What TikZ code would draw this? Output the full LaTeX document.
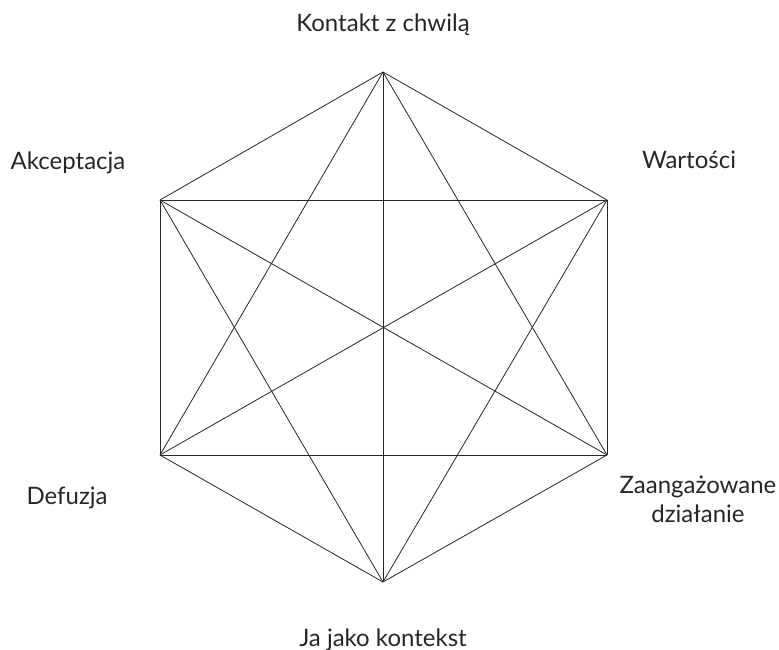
\documentclass[tikz,border=0pt]{standalone}
\usepackage{fontspec}
\setmainfont{Lato}
\begin{document}
\begin{tikzpicture}[x=1pt,y=-1pt,
  edge/.style={draw=black!85,line width=0.8pt},
  lbl/.style={font=\fontsize{24}{29}\selectfont,text=black!85,align=center,inner sep=0pt,anchor=base}]
\useasboundingbox (0,0) rectangle (779,650);
\coordinate (T) at (383,72);
\coordinate (UR) at (607,200);
\coordinate (LR) at (607,455);
\coordinate (B) at (383,582);
\coordinate (LL) at (160,455);
\coordinate (UL) at (160,200);
\foreach \a/\b in {T/UR,T/LR,T/B,T/LL,T/UL,UR/LR,UR/B,UR/LL,UR/UL,LR/B,LR/LL,LR/UL,B/LL,B/UL,LL/UL}
  \draw[edge] (\a) -- (\b);
\node[lbl] (kontakt) at (383,32) {Kontakt z chwilą};
\node[lbl] (wart) at (689,168) {Wartości};
\node[lbl] (zaang) at (698,522) {Zaangażowane\\działanie};
\node[lbl] (ja) at (383,646) {Ja jako kontekst};
\node[lbl] (def) at (67,504) {Defuzja};
\node[lbl] (akc) at (68,169) {Akceptacja};
\end{tikzpicture}
\end{document}
